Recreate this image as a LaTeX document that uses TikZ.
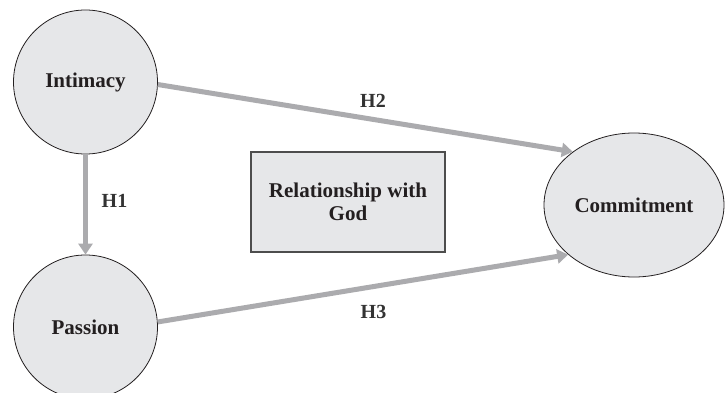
\documentclass[tikz,border=0pt]{standalone}
\usepackage{fontspec}
\setmainfont{Liberation Serif}
\usetikzlibrary{shapes.geometric,arrows.meta}
\definecolor{nodefill}{HTML}{E6E7E9}
\definecolor{arrowgray}{HTML}{ABABAE}
\definecolor{textdark}{HTML}{231F20}
\definecolor{labeldark}{HTML}{333333}
\definecolor{boxedge}{HTML}{4D4D4D}
\tikzset{
  construct/.style={draw=textdark, line width=0.8pt, fill=nodefill, inner sep=0pt,
    font=\bfseries\fontsize{21}{23}\selectfont, text=textdark},
  circlenode/.style={construct, circle, minimum size=144pt},
  ellipsenode/.style={construct, ellipse, minimum width=180pt, minimum height=144pt},
  boxnode/.style={construct, draw=boxedge, line width=1.4pt, rectangle,
    minimum width=194pt, minimum height=100pt, align=center},
  hyparrow/.style={draw=arrowgray, line width=5pt,
    -{Triangle[width=14pt,length=11pt]}, shorten >=0pt},
  hyplabel/.style={font=\bfseries\fontsize{20}{22}\selectfont, text=labeldark, inner sep=0pt}
}
\begin{document}
\begin{tikzpicture}[x=1pt,y=-1pt]
  \useasboundingbox (0,0) rectangle (725,393);
  \clip (0,0) rectangle (725,393);
  \fill[white] (0,0) rectangle (725,393);
  \node[circlenode] (int) at (85.5,82) {Intimacy};
  \node[circlenode] (pas) at (85.5,327) {Passion};
  \node[ellipsenode] (com) at (634,205) {Commitment};
  \node[boxnode] (god) at (348,202) {Relationship with\\God};
  \draw[hyparrow] (int.south) -- (pas.north);
  \draw[hyparrow] (int.-2) -- (com.139);
  \draw[hyparrow] (pas.4) -- (com.217);
  \node[hyplabel] (h1) at (114.5,201) {H1};
  \node[hyplabel] (h2) at (373,100.5) {H2};
  \node[hyplabel] (h3) at (373.5,312) {H3};
\end{tikzpicture}
\end{document}
